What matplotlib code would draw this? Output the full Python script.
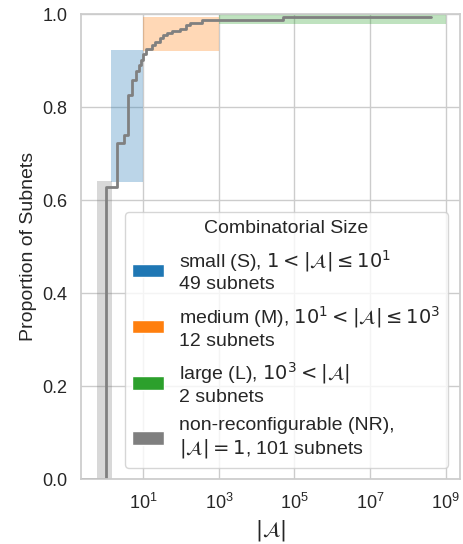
import matplotlib
matplotlib.use("Agg")
import matplotlib.pyplot as plt
import seaborn as sns
from matplotlib.patches import Patch

sns.set_theme(style="whitegrid", font_scale=1.2)
plt.rcParams['font.family'] = ['Liberation Sans', 'DejaVu Sans']

# Category regions (x span in |A|, y span in proportion)
categories = ["small", "medium", "large", "NR"]
cat_colors = ["tab:blue", "tab:orange", "tab:green", "tab:gray"]
cat_x_lo = [1.35, 10, 1e3, 0.58]
cat_x_hi = [10, 1e3, 1e9, 1.5]
cat_y_lo = [0.64, 0.92, 0.978, 0.0]
cat_y_hi = [0.922, 0.993, 1.0, 0.641]
legend_labels = [
    "small (S), $1 < |\\mathcal{A}| \\leq 10^1$\n49 subnets",
    "medium (M), $10^1 < |\\mathcal{A}| \\leq 10^3$\n12 subnets",
    "large (L), $10^3 < |\\mathcal{A}|$\n2 subnets",
    "non-reconfigurable (NR),\n$|\\mathcal{A}| = 1$, 101 subnets",
]

# ECDF step points (|A| value, cumulative proportion after step)
ecdf_x = [0.01, 1, 2, 3, 4, 5, 6.3, 7.6, 8.6, 10, 12, 16.5, 20, 27.5, 33, 42,
          56, 93, 138, 170, 350, 5e4, 4e8]
ecdf_y = [0.0, 0.628, 0.722, 0.740, 0.826, 0.858, 0.877, 0.890, 0.902, 0.914,
          0.926, 0.933, 0.941, 0.948, 0.955, 0.960, 0.964, 0.969, 0.976, 0.982,
          0.988, 0.994, 0.994]

x_ticks = [1e1, 1e3, 1e5, 1e7, 1e9]
y_ticks = [0.0, 0.2, 0.4, 0.6, 0.8, 1.0]

fig = plt.figure(figsize=(4.64, 5.44), dpi=100)
ax = fig.add_axes([0.174, 0.119, 0.817, 0.855])

for i in range(len(categories)):
    ax.fill_between([cat_x_lo[i], cat_x_hi[i]], cat_y_lo[i], cat_y_hi[i],
                    color=cat_colors[i], alpha=0.3, linewidth=0)

ax.step(ecdf_x, ecdf_y, where="post", color="gray", linewidth=2.0)

ax.set_xscale("log")
ax.set_xlim(10 ** -0.66, 10 ** 9.378)
ax.set_ylim(0, 1.0)
ax.set_xticks(x_ticks)
ax.minorticks_off()
ax.set_yticks(y_ticks)
ax.tick_params(axis="both", labelsize=13)
ax.set_xlabel("$|\\mathcal{A}|$", fontsize=15)
ax.set_ylabel("Proportion of Subnets", fontsize=14)

handles = [Patch(facecolor=c) for c in cat_colors]
leg = ax.legend(handles, legend_labels, title="Combinatorial Size",
                loc="lower right", fontsize=14, title_fontsize=14,
                framealpha=0.8, borderaxespad=0.6, handlelength=1.6,
                labelspacing=0.55)

fig.savefig("out.png", dpi=100)
